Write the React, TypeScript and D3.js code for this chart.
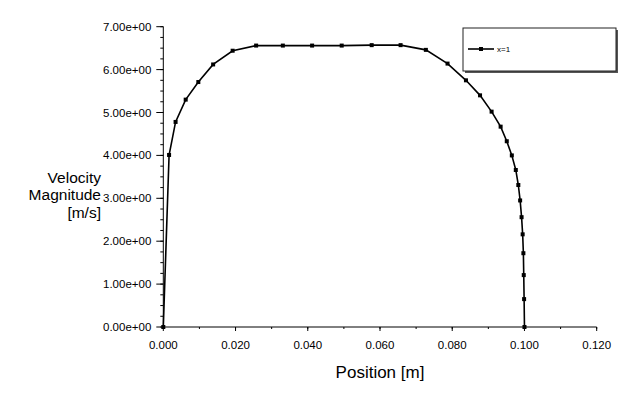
import * as d3 from "d3";

// velocity profile along the line x=1
const positions = [
  0, 0.0016, 0.0034, 0.0062, 0.0097, 0.0138, 0.0192, 0.0257, 0.0331, 0.0412,
  0.0494, 0.0577, 0.0657, 0.0727, 0.0787, 0.0838, 0.0877, 0.0909, 0.0934,
  0.0951, 0.0965, 0.0976, 0.0983, 0.0988, 0.0992, 0.0995, 0.0997, 0.0998,
  0.0999, 0.1,
];
const velocities = [
  0, 4.01, 4.78, 5.3, 5.71, 6.12, 6.44, 6.56, 6.56, 6.56, 6.56, 6.57, 6.57,
  6.46, 6.14, 5.75, 5.4, 5.02, 4.67, 4.33, 4.0, 3.66, 3.31, 2.95, 2.56, 2.16,
  1.72, 1.21, 0.65, 0,
];
const xTicks = [0, 0.02, 0.04, 0.06, 0.08, 0.1, 0.12];
const yTicks = [0, 1, 2, 3, 4, 5, 6, 7];
const seriesName = "x=1";

const width = 633;
const height = 394;
const font = "'Liberation Sans', Arial, sans-serif";

export default function App() {
  const x = d3.scaleLinear().domain([0, 0.12]).range([163.3, 596.7]);
  const y = d3.scaleLinear().domain([0, 7]).range([327, 26.7]);

  const data = positions.map((p, i) => ({ p, v: velocities[i] }));
  const line = d3
    .line<{ p: number; v: number }>()
    .x((d) => x(d.p))
    .y((d) => y(d.v));

  const xMinor = d3.range(0, 0.1201, 0.01);
  const yMinor = d3.range(0, 7.001, 0.25);

  return (
    <div style={{ position: "absolute", left: 0, top: 0 }}>
      <svg width={width} height={height} style={{ display: "block", background: "#fff" }}>
        {/* y axis */}
        <line x1={x(0)} x2={x(0)} y1={y(0)} y2={y(7)} stroke="#000" strokeWidth={1} />
        {yMinor.map((t) => (
          <line key={"ym" + t} x1={x(0) - 3} x2={x(0)} y1={y(t)} y2={y(t)} stroke="#000" />
        ))}
        {yTicks.map((t) => (
          <g key={"y" + t}>
            <line x1={x(0) - 7} x2={x(0)} y1={y(t)} y2={y(t)} stroke="#000" />
            <text
              x={x(0) - 12}
              y={y(t)}
              dy="0.35em"
              textAnchor="end"
              fontFamily={font}
              fontSize={11.5}
              fill="#000"
            >
              {t.toFixed(2) + "e+00"}
            </text>
          </g>
        ))}
        {/* x axis */}
        <line x1={x(0)} x2={x(0.12)} y1={y(0)} y2={y(0)} stroke="#000" strokeWidth={1} />
        {xMinor.map((t) => (
          <line key={"xm" + t} x1={x(t)} x2={x(t)} y1={y(0)} y2={y(0) + 2} stroke="#000" />
        ))}
        {xTicks.map((t) => (
          <g key={"x" + t}>
            <line x1={x(t)} x2={x(t)} y1={y(0)} y2={y(0) + 4} stroke="#000" />
            <text
              x={x(t)}
              y={y(0) + 22}
              textAnchor="middle"
              fontFamily={font}
              fontSize={11.5}
              fill="#000"
            >
              {t.toFixed(3)}
            </text>
          </g>
        ))}

        {/* axis titles */}
        <text x={x(0.06)} y={378} textAnchor="middle" fontFamily={font} fontSize={17} fill="#000">
          Position [m]
        </text>
        <text textAnchor="end" fontFamily={font} fontSize={15.5} fill="#000">
          <tspan x={101} y={183}>Velocity</tspan>
          <tspan x={101} y={200}>Magnitude</tspan>
          <tspan x={101} y={218}>[m/s]</tspan>
        </text>

        {/* series */}
        <path d={line(data) ?? ""} fill="none" stroke="#000" strokeWidth={1.6} />
        {data.map((d, i) => (
          <rect key={"m" + i} x={x(d.p) - 2} y={y(d.v) - 2} width={4} height={4} fill="#000" />
        ))}

        {/* legend */}
        <rect x={465} y={30} width={153} height={43} fill="#555" />
        <rect x={463} y={28} width={153} height={43} fill="#fff" stroke="#222" strokeWidth={1} />
        <line x1={468} x2={494} y1={49} y2={49} stroke="#000" strokeWidth={1.6} />
        <rect x={479} y={47} width={4} height={4} fill="#000" />
        <text x={497} y={52} fontFamily={font} fontSize={8} fill="#000">
          {seriesName}
        </text>
      </svg>
    </div>
  );
}
